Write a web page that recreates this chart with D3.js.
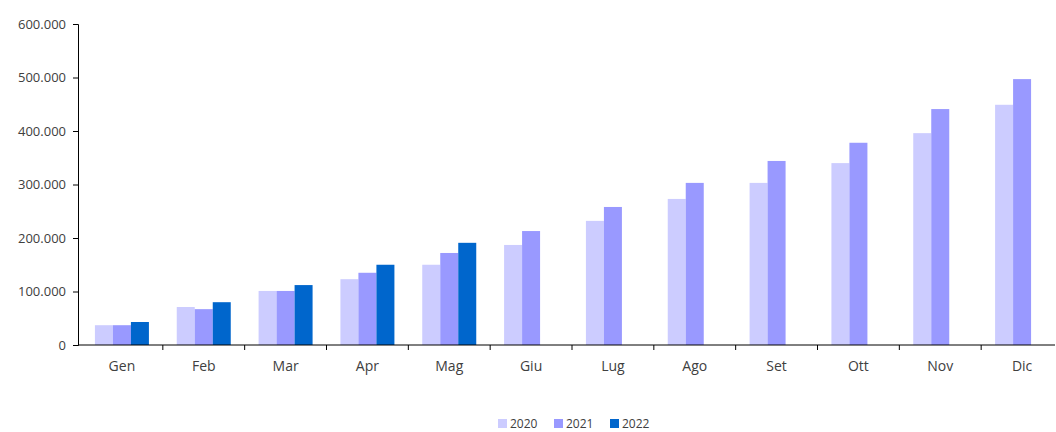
<html>
<script src="https://d3js.org/d3.v7.min.js"></script>
<style>
body { margin: 0; background: #fff; }
text { font-family: "Open Sans", "Noto Sans", sans-serif; fill: #404040; }
</style>
<body>
<svg width="1056" height="432"></svg>
<script>
var months = ["Gen","Feb","Mar","Apr","Mag","Giu","Lug","Ago","Set","Ott","Nov","Dic"];
var years = ["2020","2021","2022"];
var v2020 = [37000,71000,101000,123000,150000,187000,232000,273000,303000,340000,396000,449000];
var v2021 = [37000,67000,101000,135000,172000,213000,258000,303000,344000,378000,441000,497000];
var v2022 = [43000,80000,112000,150000,191000];
var yTicks = [0,100000,200000,300000,400000,500000,600000];
var colors = ["#ccccff","#9999ff","#0066cc"];
var series = [v2020, v2021, v2022];

var svg = d3.select("svg");
var mLeft = 78, mRight = 1055, mTop = 24, mBottom = 345;
var xs = d3.scaleBand().domain(months).range([81, 1063]);
var ys = d3.scaleLinear().domain([0, 600000]).range([mBottom, mTop]);
var fmt = function(d){ return d === 0 ? "0" : d3.format(",")(d).replace(/,/g, "."); };
var bw = 18;

series.forEach(function(vals, s) {
  svg.append("g").selectAll("rect").data(vals).enter().append("rect")
    .attr("x", function(d,i){ return xs(months[i]) + xs.bandwidth()/2 - 1.5*bw + s*bw; })
    .attr("y", function(d){ return ys(d); })
    .attr("width", bw)
    .attr("height", function(d){ return mBottom - ys(d); })
    .attr("fill", colors[s]);
});

var ya = svg.append("g").attr("transform", "translate(" + mLeft + ",0)")
  .call(d3.axisLeft(ys).tickValues(yTicks).tickFormat(fmt).tickSize(5));
ya.select(".domain").attr("stroke", "#000");
ya.selectAll("line").attr("stroke", "#000");
ya.selectAll("text").style("font-size", "13px").attr("x", -12);

var xa = svg.append("g").attr("transform", "translate(0," + mBottom + ")")
  .call(d3.axisBottom(xs).tickSize(0).tickPadding(16));
xa.select(".domain").remove();
xa.append("line").attr("x1", mLeft).attr("x2", mRight).attr("stroke", "#000");
xa.selectAll("text").style("font-size", "14px");
xa.selectAll(".sep").data(months.slice(1)).enter().append("line")
  .attr("x1", function(d){ return xs(d); }).attr("x2", function(d){ return xs(d); })
  .attr("y1", 0).attr("y2", 5).attr("stroke", "#000");

var lg = svg.append("g").attr("transform", "translate(498,418)");
years.forEach(function(y, i) {
  var g = lg.append("g").attr("transform", "translate(" + (i*56) + ",0)");
  g.append("rect").attr("width", 9).attr("height", 9).attr("y", 1).attr("fill", colors[i]);
  g.append("text").attr("x", 12).attr("y", 10).style("font-size", "12px").text(y);
});
</script>
</body>
</html>
